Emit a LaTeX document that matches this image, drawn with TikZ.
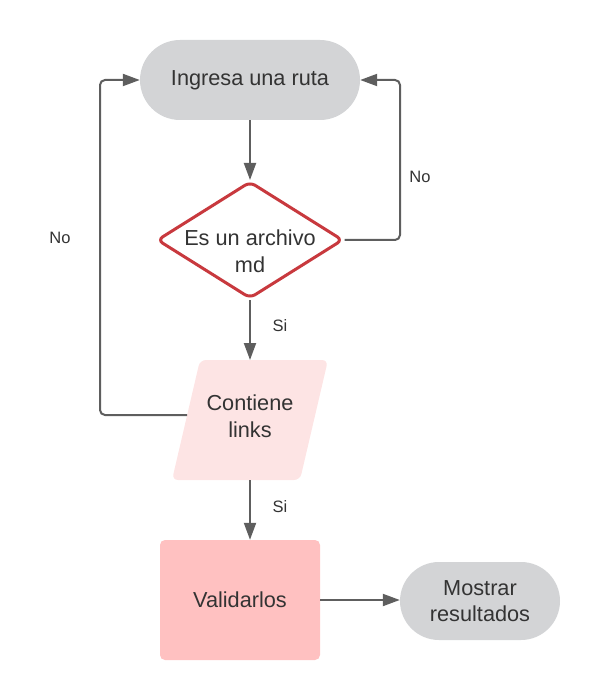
\documentclass[tikz,border=0pt]{standalone}
\usepackage{fontspec}
\setmainfont{Liberation Sans}
\usetikzlibrary{shapes.geometric,arrows.meta}
\definecolor{termgray}{HTML}{D3D4D6}
\definecolor{linegray}{HTML}{5E5E5E}
\definecolor{decred}{HTML}{C8393E}
\definecolor{parapink}{HTML}{FDE4E4}
\definecolor{rectpink}{HTML}{FFC1C1}
\definecolor{txt}{HTML}{333333}
\tikzset{
  mainfont/.style={font=\fontsize{21.7}{26.5}\selectfont, text=txt, align=center},
  term/.style={mainfont, fill=termgray, rounded corners=#1, inner sep=0pt},
  conn/.style={draw=linegray, line width=2pt, rounded corners=5pt, -{Triangle[length=17pt,width=12pt]}},
  lbl/.style={font=\fontsize{16.5}{19}\selectfont, text=txt},
}
\begin{document}
\begin{tikzpicture}[x=1pt,y=-1pt]
\useasboundingbox (0,0) rectangle (600,700);
% start terminator
\node[term=40pt, minimum width=220pt, minimum height=80pt] (start) at (250,80) {Ingresa una ruta};
% decision
\node[diamond, draw=decred, line width=3pt, rounded corners=6pt, fill=white,
      minimum width=186pt, minimum height=117pt, inner sep=0pt] (dec) at (250,240) {};
\node[mainfont] (dectext) at (250,251) {Es un archivo\\md};
% parallelogram
\coordinate (ptl) at (200,360);
\coordinate (ptr) at (328,360);
\coordinate (pbr) at (300,480);
\coordinate (pbl) at (172,480);
\fill[parapink, rounded corners=6pt] (ptl) -- (ptr) -- (pbr) -- (pbl) -- cycle;
\node[mainfont] (para) at (250,416) {Contiene\\links};
\coordinate (ptop) at (250,360);
\coordinate (pbot) at (250,480);
\coordinate (pleft) at (187,415);
% process
\node[mainfont, fill=rectpink, rounded corners=5pt, minimum width=160pt, minimum height=120pt, inner sep=0pt] (val) at (240,600) {Validarlos};
% end terminator
\node[term=39pt, minimum width=160pt, minimum height=78pt] (fin) at (480,601) {Mostrar\\resultados};
% connectors
\draw[conn] (start.south) -- (dec.north);
\draw[conn] (dec.east) -- (400,240) -- (400,80) -- (start.east);
\draw[conn] (dec.south) -- (ptop);
\draw[conn] (pleft) -- (100,415) -- (100,80) -- (start.west);
\draw[conn] (pbot) -- (val.north -| pbot);
\draw[conn] (val.east |- 0,600) -- (fin.west |- 0,600);
% labels
\node[lbl] (no1) at (420,177) {No};
\node[lbl] (no2) at (60,238) {No};
\node[lbl] (si1) at (280,326) {Si};
\node[lbl] (si2) at (280,507) {Si};
\end{tikzpicture}
\end{document}
